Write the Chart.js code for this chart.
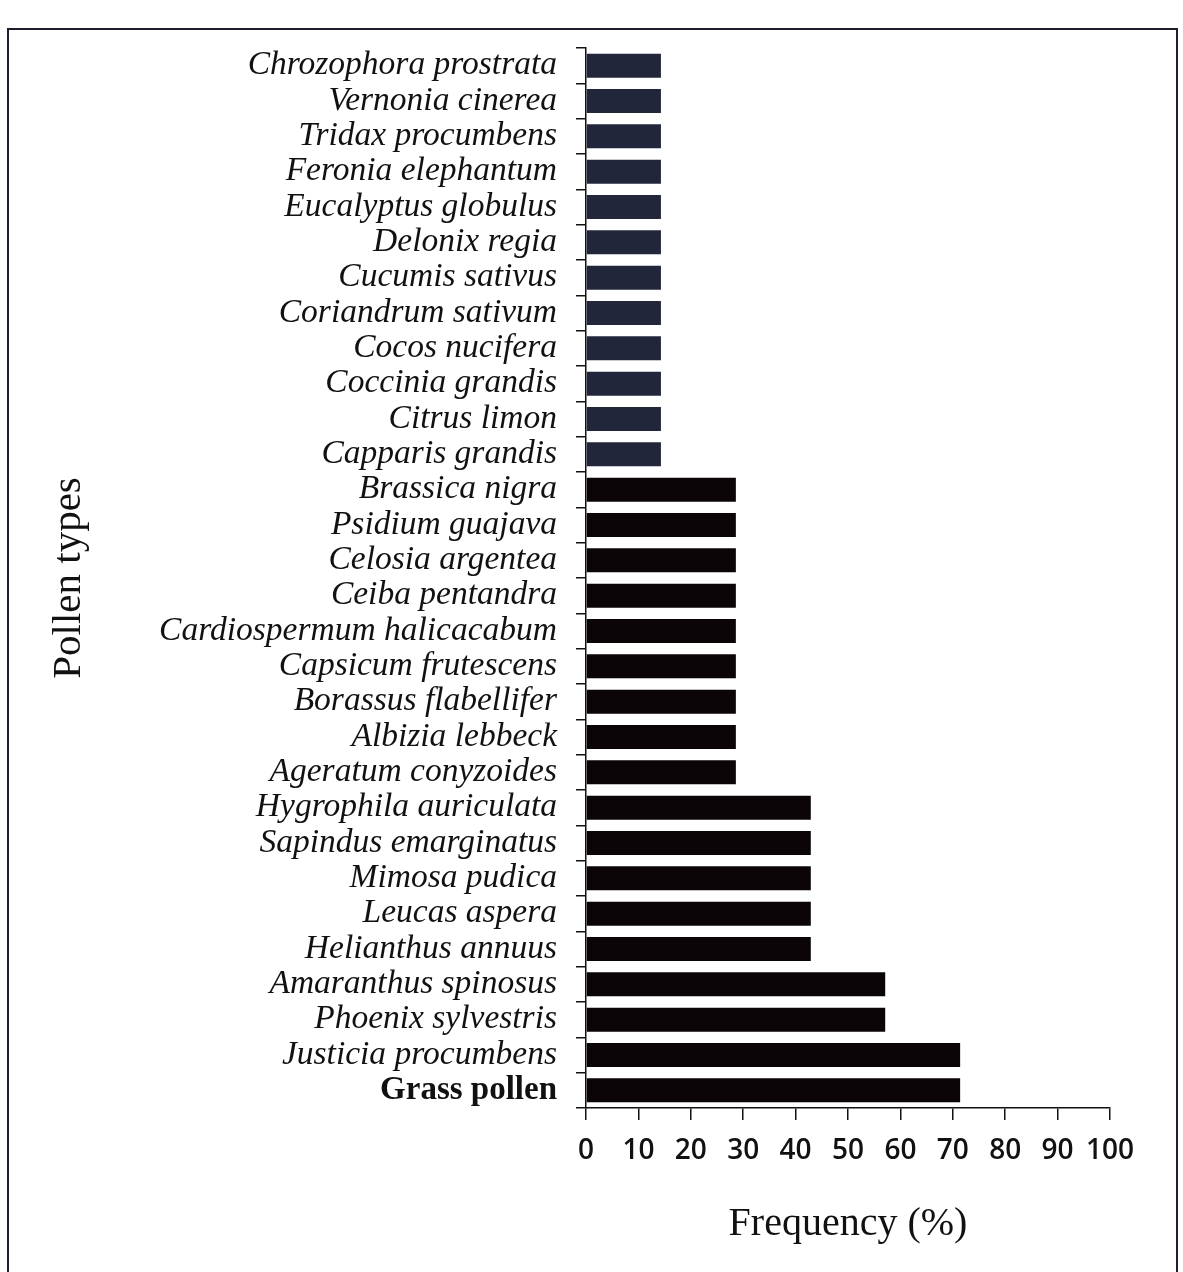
<!DOCTYPE html>
<html lang="en">
<head>
    <meta charset="utf-8" />
    <title>Pollen types - Frequency</title>
    <script src="https://cdn.jsdelivr.net/npm/chart.js"></script>
    <style>
      html, body { margin: 0; padding: 0; background: #fff; }
      .page { position: relative; width: 1183px; height: 1272px; overflow: hidden; }
      .frame {
        position: absolute; left: 7px; top: 28px; width: 1167px; height: 1270px;
        border: 2.5px solid #1c1f2b;
      }
      #barChart { position: absolute; left: 0; top: 0; }
    </style>
</head>
<body>
    <div class="page">
        <div class="frame"></div>
        <canvas id="barChart" width="1183" height="1272"></canvas>
    </div>

    <script>
        // --- données (de haut en bas) ---
        const pollenTypes = [
            "Chrozophora prostrata", "Vernonia cinerea", "Tridax procumbens",
            "Feronia elephantum", "Eucalyptus globulus", "Delonix regia",
            "Cucumis sativus", "Coriandrum sativum", "Cocos nucifera",
            "Coccinia grandis", "Citrus limon", "Capparis grandis",
            "Brassica nigra", "Psidium guajava", "Celosia argentea",
            "Ceiba pentandra", "Cardiospermum halicacabum", "Capsicum frutescens",
            "Borassus flabellifer", "Albizia lebbeck", "Ageratum conyzoides",
            "Hygrophila auriculata", "Sapindus emarginatus", "Mimosa pudica",
            "Leucas aspera", "Helianthus annuus", "Amaranthus spinosus",
            "Phoenix sylvestris", "Justicia procumbens", "Grass pollen"
        ];
        const frequency = [
            14.3, 14.3, 14.3, 14.3, 14.3, 14.3,
            14.3, 14.3, 14.3, 14.3, 14.3, 14.3,
            28.6, 28.6, 28.6, 28.6, 28.6, 28.6,
            28.6, 28.6, 28.6,
            42.9, 42.9, 42.9, 42.9, 42.9,
            57.1, 57.1,
            71.4, 71.4
        ];
        const xTicks = [0, 10, 20, 30, 40, 50, 60, 70, 80, 90, 100];

        const ink = "#111111";
        const serif = "'Liberation Serif', 'Times New Roman', serif";

        const ctx = document.getElementById("barChart").getContext("2d");

        let barChart = new Chart(ctx, {
            type: "bar",
            data: {
                labels: pollenTypes,
                datasets: [{
                    label: "Frequency (%)",
                    data: frequency,
                    // les barres du haut paraissent un peu plus grises sur la photo
                    backgroundColor: (c) => c.dataIndex < 12 ? "#22263a" : "#0b0507",
                    barPercentage: 0.68,
                    categoryPercentage: 1.0
                }]
            },
            options: {
                indexAxis: "y",
                responsive: false,
                animation: false,
                layout: {
                    padding: { top: 48, right: 73, bottom: 0, left: 0 }
                },
                plugins: {
                    legend: { display: false },
                    tooltip: { enabled: false }
                },
                scales: {
                    y: {
                        type: "category",
                        afterFit: (scale) => { scale.width = 586; },
                        grid: {
                            offset: true,
                            drawOnChartArea: false,
                            tickLength: 10,
                            color: ink,
                            lineWidth: 1.5
                        },
                        border: { color: ink, width: 1.5 },
                        ticks: {
                            autoSkip: false,
                            padding: 19,
                            color: ink,
                            font: (c) => c.index === pollenTypes.length - 1
                                ? { family: serif, size: 33, weight: "bold" }
                                : { family: serif, size: 33.5, style: "italic" }
                        },
                        title: {
                            display: true,
                            text: "Pollen types",
                            color: ink,
                            font: { family: serif, size: 41 },
                            padding: { top: 45, bottom: 0 }
                        }
                    },
                    x: {
                        min: xTicks[0],
                        max: xTicks[xTicks.length - 1],
                        afterFit: (scale) => { scale.height = 164; },
                        afterBuildTicks: (scale) => {
                            scale.ticks = xTicks.map(v => ({ value: v }));
                        },
                        grid: {
                            drawOnChartArea: false,
                            tickLength: 12,
                            color: ink,
                            lineWidth: 1.5
                        },
                        border: { color: ink, width: 1.5 },
                        ticks: {
                            padding: 14,
                            color: ink,
                            maxRotation: 0,
                            font: { family: "'Open Sans', sans-serif", size: 28, weight: "600" }
                        },
                        title: {
                            display: true,
                            text: "Frequency (%)",
                            color: ink,
                            font: { family: serif, size: 40 },
                            padding: { top: 0, bottom: 24 }
                        }
                    }
                }
            }
        });
    </script>
</body>
</html>
